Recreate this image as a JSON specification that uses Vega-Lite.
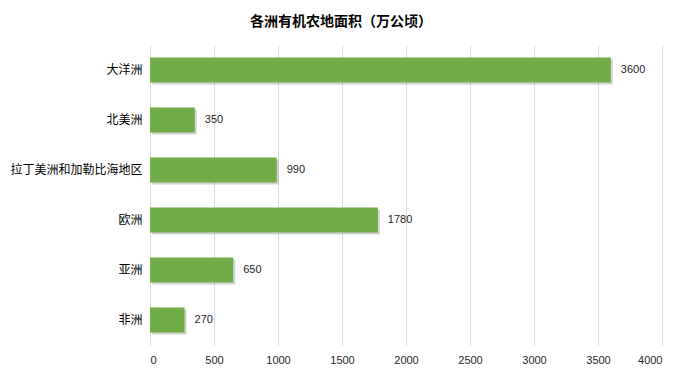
{
  "$schema": "https://vega.github.io/schema/vega-lite/v6.json",
  "width": 512,
  "height": 300,
  "autosize": {"type": "none"},
  "padding": {"left": 150, "top": 45, "right": 20, "bottom": 34},
  "background": "white",
  "title": {
    "text": "各洲有机农地面积（万公顷）",
    "font": "Noto Sans CJK SC",
    "fontSize": 14,
    "fontWeight": "bold",
    "color": "#000000",
    "anchor": "middle",
    "dx": -65,
    "offset": 16
  },
  "data": {
    "values": [
      {"region": "大洋洲", "area": 3600},
      {"region": "北美洲", "area": 350},
      {"region": "拉丁美洲和加勒比海地区", "area": 990},
      {"region": "欧洲", "area": 1780},
      {"region": "亚洲", "area": 650},
      {"region": "非洲", "area": 270}
    ]
  },
  "encoding": {
    "y": {
      "field": "region",
      "type": "nominal",
      "sort": null,
      "scale": {"paddingInner": 0.5, "paddingOuter": 0.25},
      "axis": {
        "title": null,
        "domain": false,
        "ticks": false,
        "labelFont": "Noto Sans CJK SC",
        "labelFontSize": 12,
        "labelColor": "#000000",
        "labelPadding": 8
      }
    },
    "x": {
      "field": "area",
      "type": "quantitative",
      "scale": {"domain": [0, 4000]},
      "axis": {
        "title": null,
        "values": [0, 500, 1000, 1500, 2000, 2500, 3000, 3500, 4000],
        "format": "d",
        "domain": false,
        "ticks": false,
        "grid": true,
        "gridColor": "#d9d9d9",
        "labelFont": "Liberation Sans",
        "labelFontSize": 11,
        "labelColor": "#262626",
        "labelPadding": 9
      }
    }
  },
  "layer": [
    {
      "mark": {"type": "bar", "color": "#7f7f7f", "opacity": 0.35, "xOffset": 2, "yOffset": 2}
    },
    {
      "mark": {"type": "bar", "color": "#70ad47"}
    },
    {
      "mark": {"type": "text", "align": "left", "dx": 10, "font": "Liberation Sans", "fontSize": 11, "color": "#262626"},
      "encoding": {"text": {"field": "area", "type": "quantitative", "format": "d"}}
    }
  ],
  "config": {"view": {"stroke": null}}
}
